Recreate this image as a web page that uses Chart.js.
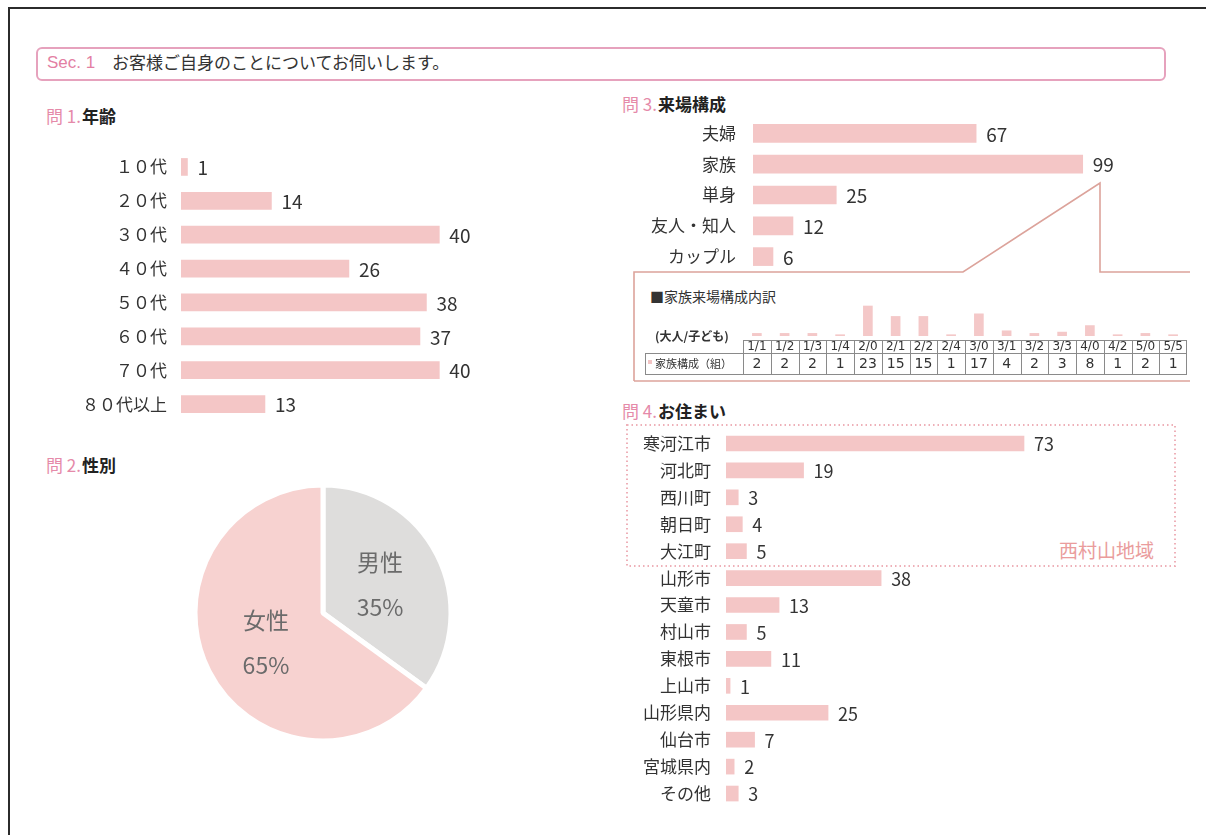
<!DOCTYPE html>
<html lang="ja">
<head>
<meta charset="utf-8">
<script src="https://cdn.jsdelivr.net/npm/chart.js@4.4.1/dist/chart.umd.min.js"></script>
<style>
  html, body { margin: 0; padding: 0; background: #fff; }
  body { width: 1206px; height: 835px; position: relative; overflow: hidden;
         font-family: "Noto Sans CJK JP", "Noto Sans", sans-serif; color: #333; }
  .abs { position: absolute; line-height: 1; white-space: nowrap; }
  canvas { position: absolute; }
  .q { font-size: 17px; font-weight: bold; color: #222; }
  .q span { color: #e58aa9; font-weight: normal; margin-right: 1px; }
</style>
</head>
<body>
<!-- scan frame -->
<div class="abs" style="left:8px;top:7px;width:1198px;height:2px;background:#2b2b2b"></div>
<div class="abs" style="left:8px;top:7px;width:2px;height:828px;background:#2b2b2b"></div>

<!-- section header -->
<div class="abs" style="left:36px;top:47px;width:1126px;height:30px;border:2px solid #e6a2bd;border-radius:6px"></div>
<div class="abs" style="left:47px;top:54px;font-size:17px;color:#e37fa3;font-family:'Liberation Sans',sans-serif">Sec. 1</div>
<div class="abs" style="left:112px;top:53px;font-size:17px;color:#333">お客様ご自身のことについてお伺いします。</div>

<div class="abs q" style="left:46px;top:107px"><span>問 1.</span>年齢</div>
<div class="abs q" style="left:46px;top:456px"><span>問 2.</span>性別</div>
<div class="abs q" style="left:622px;top:95px"><span>問 3.</span>来場構成</div>
<div class="abs q" style="left:622px;top:402px"><span>問 4.</span>お住まい</div>

<!-- Q3 breakdown connector and box -->
<svg class="abs" style="left:0;top:0" width="1206" height="835">
  <polyline points="634,381 634,272 963,272 1100,183 1100,272 1190,272" fill="none" stroke="#dca39b" stroke-width="1.6"/>
  <line x1="634" y1="381" x2="1190" y2="381" stroke="#dca39b" stroke-width="1.6"/>
  <rect x="627" y="425" width="548" height="141" fill="none" stroke="#eeb0b8" stroke-width="2" stroke-dasharray="1.5,3"/>
</svg>
<div class="abs" style="left:650px;top:289px;font-size:14px;color:#333">■家族来場構成内訳</div>
<div class="abs" style="left:1059px;top:540px;font-size:19px;color:#ea9c9c">西村山地域</div>

<canvas id="ageChart" width="471" height="271" style="left:20px;top:150px"></canvas>
<canvas id="genderChart" width="280" height="280" style="left:183px;top:473px"></canvas>
<canvas id="partyChart" width="516" height="154" style="left:620px;top:118px"></canvas>
<canvas id="familyChart" width="550" height="90" style="left:640px;top:290px"></canvas>
<canvas id="homeChart" width="463" height="377" style="left:610px;top:430px"></canvas>

<script>
// Q1 age
const ageLabels = ['１０代', '２０代', '３０代', '４０代', '５０代', '６０代', '７０代', '８０代以上'];
const ageCounts = [1, 14, 40, 26, 38, 37, 40, 13];

// Q2 gender
const genderLabels = ['男性', '女性'];
const genderPct = [35, 65];

// Q3 party
const partyLabels = ['夫婦', '家族', '単身', '友人・知人', 'カップル'];
const partyCounts = [67, 99, 25, 12, 6];

// family breakdown (adults/children)
const familyTypes = ['1/1', '1/2', '1/3', '1/4', '2/0', '2/1', '2/2', '2/4', '3/0', '3/1', '3/2', '3/3', '4/0', '4/2', '5/0', '5/5'];
const familyCounts = [2, 2, 2, 1, 23, 15, 15, 1, 17, 4, 2, 3, 8, 1, 2, 1];

// Q4 home
const homeLabels = ['寒河江市', '河北町', '西川町', '朝日町', '大江町', '山形市', '天童市', '村山市', '東根市', '上山市', '山形県内', '仙台市', '宮城県内', 'その他'];
const homeCounts = [73, 19, 3, 4, 5, 38, 13, 5, 11, 1, 25, 7, 2, 3];

const jp = '"Noto Sans CJK JP", sans-serif';
const barPink = '#f4c6c6';

// number written right after each bar
const valueLabels = {
    id: 'valueLabels',
    afterDatasetsDraw(chart, args, opts) {
        const ctx = chart.ctx;
        const values = chart.data.datasets[0].data;
        ctx.save();
        ctx.font = opts.size + 'px ' + jp;
        ctx.fillStyle = '#333';
        ctx.textBaseline = 'middle';
        chart.getDatasetMeta(0).data.forEach((bar, i) => {
            ctx.fillText(values[i], bar.x + opts.gap, bar.y + 1);
        });
        ctx.restore();
    }
};

function hbar(id, labels, values, max, axisWidth, pad, thickness, fontSize, valueSize) {
    return new Chart(document.getElementById(id), {
        type: 'bar',
        data: { labels: labels, datasets: [{ data: values, backgroundColor: barPink, barThickness: thickness }] },
        options: {
            indexAxis: 'y',
            responsive: false,
            animation: false,
            layout: { padding: 0 },
            plugins: { legend: { display: false }, tooltip: { enabled: false }, valueLabels: { size: valueSize, gap: 10 } },
            scales: {
                x: { display: false, min: 0, max: max },
                y: {
                    // fixed label column, no extra room above/below the rows
                    afterFit: s => { s.width = axisWidth; s.paddingTop = 0; s.paddingBottom = 0; },
                    grid: { display: false, drawTicks: false },
                    border: { display: false },
                    ticks: { autoSkip: false, padding: pad, color: '#333', font: { family: jp, size: fontSize } }
                }
            }
        },
        plugins: [valueLabels]
    });
}

hbar('ageChart', ageLabels, ageCounts, 48, 161, 14, 17, 17, 19);
hbar('partyChart', partyLabels, partyCounts, 115, 133, 17, 18, 17, 19);
hbar('homeChart', homeLabels, homeCounts, 85, 116, 15, 15, 17, 18);

// pie labels: name and percent in the middle of each slice
const pieLabels = {
    id: 'pieLabels',
    afterDatasetsDraw(chart) {
        const ctx = chart.ctx;
        ctx.save();
        ctx.font = '23px ' + jp;
        ctx.fillStyle = '#6b6b6b';
        ctx.textAlign = 'center';
        ctx.textBaseline = 'middle';
        chart.getDatasetMeta(0).data.forEach((arc, i) => {
            const p = arc.tooltipPosition();
            ctx.fillText(chart.data.labels[i], p.x, p.y - 22);
            ctx.fillText(chart.data.datasets[0].data[i] + '%', p.x, p.y + 23);
        });
        ctx.restore();
    }
};

new Chart(document.getElementById('genderChart'), {
    type: 'pie',
    data: {
        labels: genderLabels,
        datasets: [{ data: genderPct, backgroundColor: ['#dedddc', '#f7d2d0'], borderColor: '#fff', borderWidth: 5 }]
    },
    options: {
        responsive: false,
        animation: false,
        radius: 128,
        plugins: { legend: { display: false }, tooltip: { enabled: false } }
    },
    plugins: [pieLabels]
});

// small table under the family bars, columns follow the x scale
const familyTable = {
    id: 'familyTable',
    afterDraw(chart) {
        const ctx = chart.ctx;
        const x = chart.scales.x;
        const half = x.width / familyTypes.length / 2;
        const top = chart.chartArea.bottom + 4;
        const mid = top + 13;
        const bot = mid + 21;
        const first = x.left;
        const last = x.right;
        const labelLeft = first - 98;
        ctx.save();
        ctx.strokeStyle = '#8a8a8a';
        ctx.lineWidth = 1;
        ctx.beginPath();
        ctx.moveTo(first, top + 0.5); ctx.lineTo(last, top + 0.5);
        ctx.moveTo(labelLeft, mid + 0.5); ctx.lineTo(last, mid + 0.5);
        ctx.moveTo(labelLeft, bot + 0.5); ctx.lineTo(last, bot + 0.5);
        ctx.moveTo(labelLeft + 0.5, mid); ctx.lineTo(labelLeft + 0.5, bot);
        familyTypes.forEach((t, i) => {
            const cx = x.getPixelForValue(i);
            ctx.moveTo(Math.round(cx - half) + 0.5, top); ctx.lineTo(Math.round(cx - half) + 0.5, bot);
        });
        ctx.moveTo(Math.round(last) - 0.5, top); ctx.lineTo(Math.round(last) - 0.5, bot);
        ctx.stroke();

        ctx.fillStyle = '#333';
        ctx.textAlign = 'center';
        ctx.textBaseline = 'middle';
        ctx.font = '12px "DejaVu Sans", sans-serif';
        familyTypes.forEach((t, i) => ctx.fillText(t, x.getPixelForValue(i), top + 7));
        ctx.font = '14px "DejaVu Sans", sans-serif';
        familyCounts.forEach((v, i) => ctx.fillText(v, x.getPixelForValue(i), mid + 11));

        ctx.textAlign = 'left';
        ctx.font = 'bold 12px ' + jp;
        ctx.fillText('(大人/子ども)', labelLeft + 10, top - 4);
        ctx.fillStyle = '#f2c4c4';
        ctx.fillRect(labelLeft + 3, mid + 7, 4, 4);
        ctx.fillStyle = '#333';
        ctx.font = '11px ' + jp;
        ctx.fillText('家族構成（組）', labelLeft + 10, mid + 11);
        ctx.restore();
    }
};

new Chart(document.getElementById('familyChart'), {
    type: 'bar',
    data: { labels: familyTypes, datasets: [{ data: familyCounts, backgroundColor: '#f4c8c8', barThickness: 9 }] },
    options: {
        responsive: false,
        animation: false,
        layout: { padding: { left: 103, right: 3, top: 10, bottom: 44 } },
        plugins: { legend: { display: false }, tooltip: { enabled: false } },
        scales: { x: { display: false }, y: { display: false, min: 0, max: 27.6 } }
    },
    plugins: [familyTable]
});
</script>
</body>
</html>
